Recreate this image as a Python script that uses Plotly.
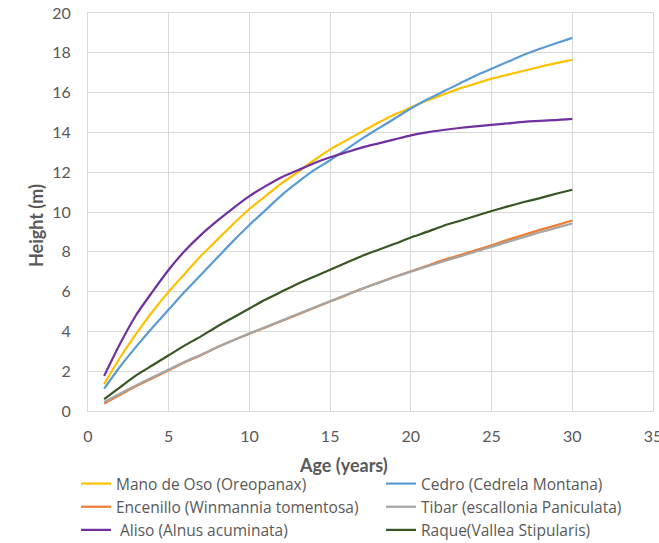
import plotly.graph_objects as go

ages = list(range(1, 31))

mano_de_oso = [1.35, 2.7, 3.9, 5.0, 6.0, 6.9, 7.8, 8.6, 9.4, 10.15, 10.8, 11.45, 12.0, 12.6, 13.15,
               13.6, 14.05, 14.5, 14.9, 15.25, 15.6, 15.9, 16.2, 16.45, 16.7, 16.9, 17.1, 17.3, 17.48, 17.65]
cedro = [1.12, 2.25, 3.25, 4.2, 5.1, 6.0, 6.85, 7.7, 8.55, 9.35, 10.1, 10.85, 11.5, 12.1, 12.6,
         13.15, 13.7, 14.2, 14.7, 15.2, 15.65, 16.05, 16.45, 16.85, 17.2, 17.55, 17.9, 18.2, 18.48, 18.75]
encenillo = [0.38, 0.82, 1.25, 1.65, 2.05, 2.45, 2.8, 3.2, 3.55, 3.88, 4.2, 4.52, 4.85, 5.18, 5.5,
             5.82, 6.15, 6.45, 6.75, 7.02, 7.3, 7.58, 7.82, 8.08, 8.33, 8.6, 8.85, 9.1, 9.33, 9.57]
tibar = [0.45, 0.88, 1.3, 1.7, 2.08, 2.47, 2.83, 3.2, 3.56, 3.9, 4.22, 4.55, 4.87, 5.2, 5.52,
         5.84, 6.15, 6.44, 6.73, 7.0, 7.26, 7.52, 7.76, 8.0, 8.25, 8.5, 8.74, 8.98, 9.2, 9.42]
aliso = [1.76, 3.4, 4.85, 6.0, 7.1, 8.05, 8.85, 9.55, 10.2, 10.8, 11.3, 11.75, 12.1, 12.45, 12.75,
         13.0, 13.25, 13.45, 13.65, 13.85, 14.0, 14.12, 14.22, 14.3, 14.38, 14.45, 14.53, 14.58, 14.62, 14.68]
raque = [0.6, 1.2, 1.8, 2.3, 2.8, 3.3, 3.75, 4.25, 4.7, 5.15, 5.6, 6.0, 6.4, 6.75, 7.1,
         7.45, 7.8, 8.1, 8.4, 8.72, 9.0, 9.3, 9.55, 9.8, 10.05, 10.28, 10.5, 10.7, 10.92, 11.12]

series_names = ["Mano de Oso (Oreopanax)", "Cedro (Cedrela Montana)",
                "Encenillo (Winmannia tomentosa)", "Tibar (escallonia Paniculata)",
                "\u00a0Aliso (Alnus acuminata)", "Raque(Vallea Stipularis)"]
series_values = [mano_de_oso, cedro, encenillo, tibar, aliso, raque]
series_colors = ["#FFC000", "#5B9BD5", "#ED7D31", "#A5A5A5", "#7030A0", "#375623"]
legend_column = ["legend", "legend2", "legend", "legend2", "legend", "legend2"]

x_ticks = [0, 5, 10, 15, 20, 25, 30, 35]
y_ticks = [0, 2, 4, 6, 8, 10, 12, 14, 16, 18, 20]

FONT = "Lato, 'Open Sans', sans-serif"
LEGEND_FONT = "'Open Sans', Lato, sans-serif"
GRAY = "#595959"

W, H = 659, 543
ML, MR, MT, MB = 88, 6, 13, 132
PW, PH = W - ML - MR, H - MT - MB


def px_x(px):
    return (px - ML) / PW


def px_y(py):
    return (H - MB - py) / PH


fig = go.Figure()
for name, vals, col, lg in zip(series_names, series_values, series_colors, legend_column):
    fig.add_trace(go.Scatter(x=ages, y=vals, name=name, mode="lines", legend=lg,
                             line=dict(color=col, width=2.2, shape="spline", smoothing=0.6)))

legend_common = dict(orientation="v", xanchor="left", yanchor="bottom",
                     tracegroupgap=0, itemwidth=30, bgcolor="rgba(0,0,0,0)",
                     font=dict(family=LEGEND_FONT, size=15.5, color=GRAY))

fig.update_layout(
    width=W, height=H,
    margin=dict(l=ML, r=MR, t=MT, b=MB, autoexpand=False),
    paper_bgcolor="white", plot_bgcolor="white",
    font=dict(family=FONT, color=GRAY, size=15),
    showlegend=True,
    legend=dict(x=px_x(76), y=px_y(547), **legend_common),
    legend2=dict(x=px_x(381), y=px_y(547), **legend_common),
    xaxis=dict(range=[0, 35], tickvals=x_ticks, ticktext=[str(v) for v in x_ticks],
               showgrid=True, gridcolor="#D9D9D9", gridwidth=1,
               showline=True, linecolor="#D9D9D9", linewidth=1, mirror=True,
               zeroline=False, ticks="", ticklabelstandoff=11, ticklabeloverflow="allow",
               automargin=False,
               tickfont=dict(family=FONT, size=16, color=GRAY)),
    yaxis=dict(range=[0, 20], tickvals=y_ticks, ticktext=[str(v) for v in y_ticks],
               showgrid=True, gridcolor="#D9D9D9", gridwidth=1,
               showline=True, linecolor="#D9D9D9", linewidth=1, mirror=True,
               zeroline=False, ticks="", ticklabelstandoff=13, automargin=False,
               tickfont=dict(family=FONT, size=16, color=GRAY)),
    annotations=[
        dict(text="<b>Age (years)</b>", x=px_x(343), y=px_y(465), xref="paper", yref="paper",
             xanchor="center", yanchor="middle",
             showarrow=False, font=dict(family=FONT, size=18, color=GRAY)),
        dict(text="<b>Height (m)</b>", x=px_x(36), y=px_y(226), xref="paper", yref="paper",
             xanchor="center", yanchor="middle",
             showarrow=False, textangle=-90, font=dict(family=FONT, size=18, color=GRAY)),
    ],
)

fig.write_html("out.html")
